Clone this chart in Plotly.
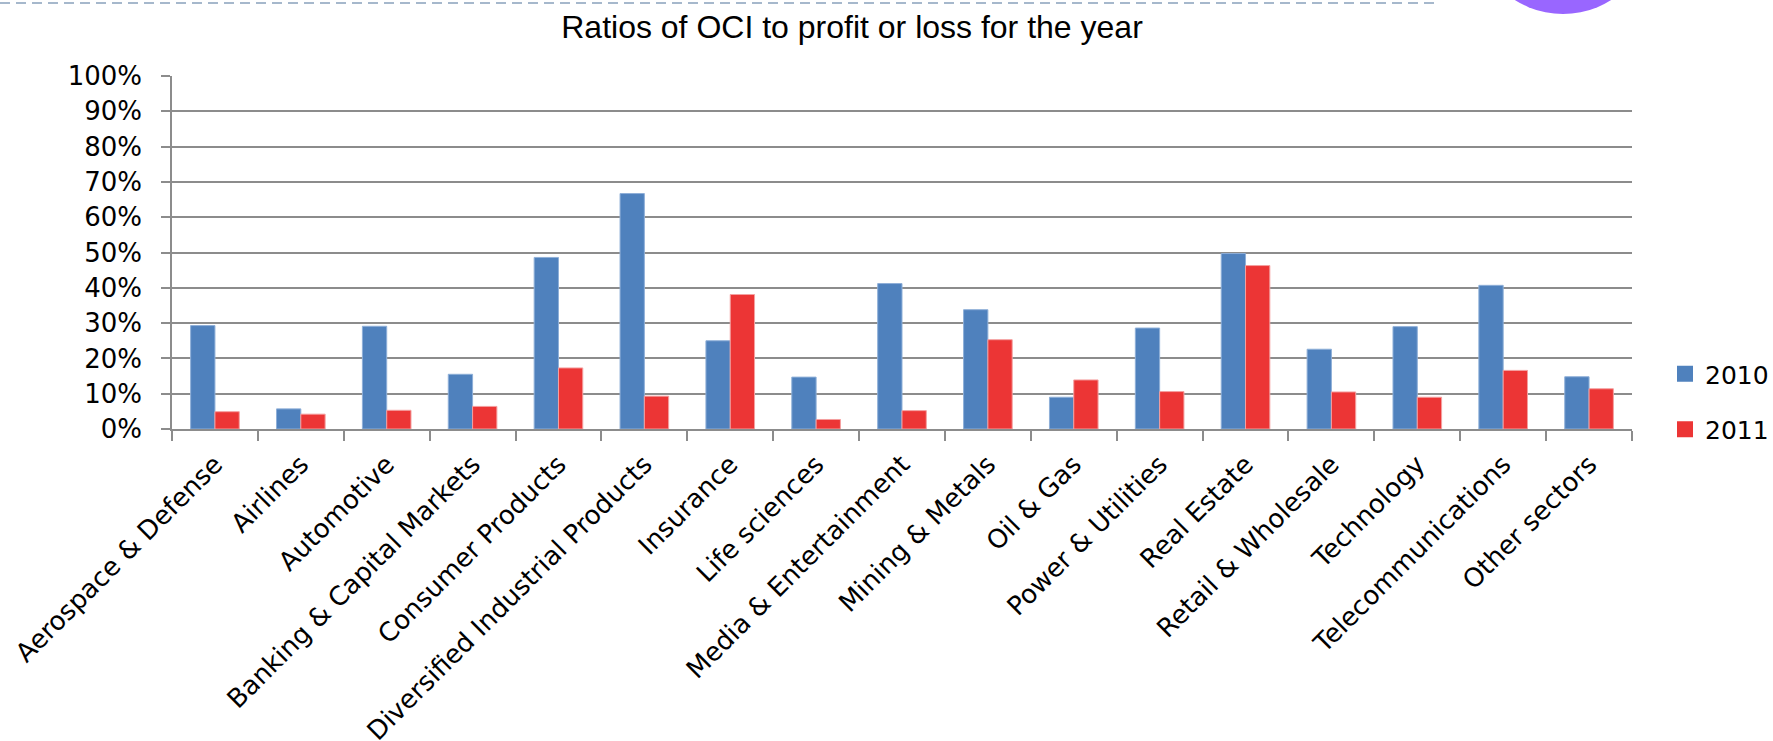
import plotly.graph_objects as go

categories = [
    "Aerospace & Defense", "Airlines", "Automotive", "Banking & Capital Markets",
    "Consumer Products", "Diversified Industrial Products", "Insurance",
    "Life sciences", "Media & Entertainment", "Mining & Metals", "Oil & Gas",
    "Power & Utilities", "Real Estate", "Retail & Wholesale", "Technology",
    "Telecommunications", "Other sectors",
]
values_2010 = [0.293, 0.057, 0.291, 0.155, 0.486, 0.667, 0.250, 0.147, 0.412,
               0.338, 0.090, 0.286, 0.497, 0.226, 0.290, 0.407, 0.148]
values_2011 = [0.049, 0.042, 0.053, 0.064, 0.173, 0.093, 0.381, 0.027, 0.052,
               0.253, 0.139, 0.106, 0.463, 0.105, 0.090, 0.166, 0.114]
series_names = ["2010", "2011"]
y_tick_values = [0, 0.1, 0.2, 0.3, 0.4, 0.5, 0.6, 0.7, 0.8, 0.9, 1.0]
y_tick_labels = ["0%", "10%", "20%", "30%", "40%", "50%", "60%", "70%", "80%", "90%", "100%"]
title_text = "Ratios of OCI to profit or loss for the year"

W, H = 1773, 741
ML, MR, MT, MB = 172, 141, 76, 312
PW, PH = W - ML - MR, H - MT - MB

def px_x(x):
    return (x - ML) / PW

def px_y(y):
    return (H - MB - y) / PH

blue = "#4F81BD"
red = "#EC3535"
colors = [blue, red]
edges = ["#8EAFD8", "#F4A0A0"]

fig = go.Figure()
for name, vals, col, edge in zip(series_names, [values_2010, values_2011], colors, edges):
    fig.add_trace(go.Bar(
        x=categories, y=vals, name=name, showlegend=False,
        marker=dict(color=col, line=dict(color=edge, width=1)),
    ))
for i, (name, col) in enumerate(zip(series_names, colors)):
    fig.add_trace(go.Scatter(
        x=[None], y=[None], mode="markers", name=name, legendgroup=name,
        marker=dict(symbol="square", size=19, color=col),
    ))

grid = "#8C8C8C"
fig.update_layout(
    width=W, height=H,
    margin=dict(l=ML, r=MR, t=MT, b=MB, autoexpand=False),
    paper_bgcolor="white", plot_bgcolor="white",
    font=dict(family="DejaVu Sans", size=25, color="black"),
    barmode="group", bargap=0.434, bargroupgap=0,
    title=dict(text=title_text, x=852 / W, xref="container", xanchor="center",
               y=1 - 27 / H, yref="container", yanchor="middle",
               font=dict(family="Liberation Sans", size=32, color="black")),
    xaxis=dict(
        type="category", tickangle=-45, tickson="boundaries",
        ticks="outside", ticklen=10, tickcolor=grid, tickwidth=1.5,
        showline=True, linecolor=grid, linewidth=1.5,
        showgrid=False, zeroline=False, ticklabelstandoff=8,
        tickfont=dict(family="DejaVu Sans", size=26, color="black"),
    ),
    yaxis=dict(
        range=[0, 1], tickvals=y_tick_values, ticktext=y_tick_labels,
        ticks="outside", ticklen=9, tickcolor=grid, tickwidth=1.5,
        showline=True, linecolor=grid, linewidth=1.5,
        showgrid=True, gridcolor=grid, gridwidth=1.5, zeroline=False,
        ticklabelstandoff=14,
        tickfont=dict(family="DejaVu Sans", size=26, color="black"),
    ),
    legend=dict(x=px_x(1665), y=px_y(351), xanchor="left", yanchor="top",
                bgcolor="rgba(0,0,0,0)", tracegroupgap=20, itemsizing="trace",
                font=dict(family="DejaVu Sans", size=25, color="black")),
    shapes=[
        dict(type="line", xref="paper", yref="paper",
             x0=px_x(0), x1=px_x(1439), y0=px_y(3), y1=px_y(3),
             line=dict(color="#A6B8CC", width=2, dash="10px,6px")),
        dict(type="circle", xref="paper", yref="paper",
             x0=px_x(1473), x1=px_x(1653), y0=px_y(-166), y1=px_y(14),
             fillcolor="#9966FF", line=dict(width=0)),
    ],
)

fig.write_html("out.html", config={"displayModeBar": False},
               post_script="document.body.style.margin='0';document.body.style.overflow='hidden';")
